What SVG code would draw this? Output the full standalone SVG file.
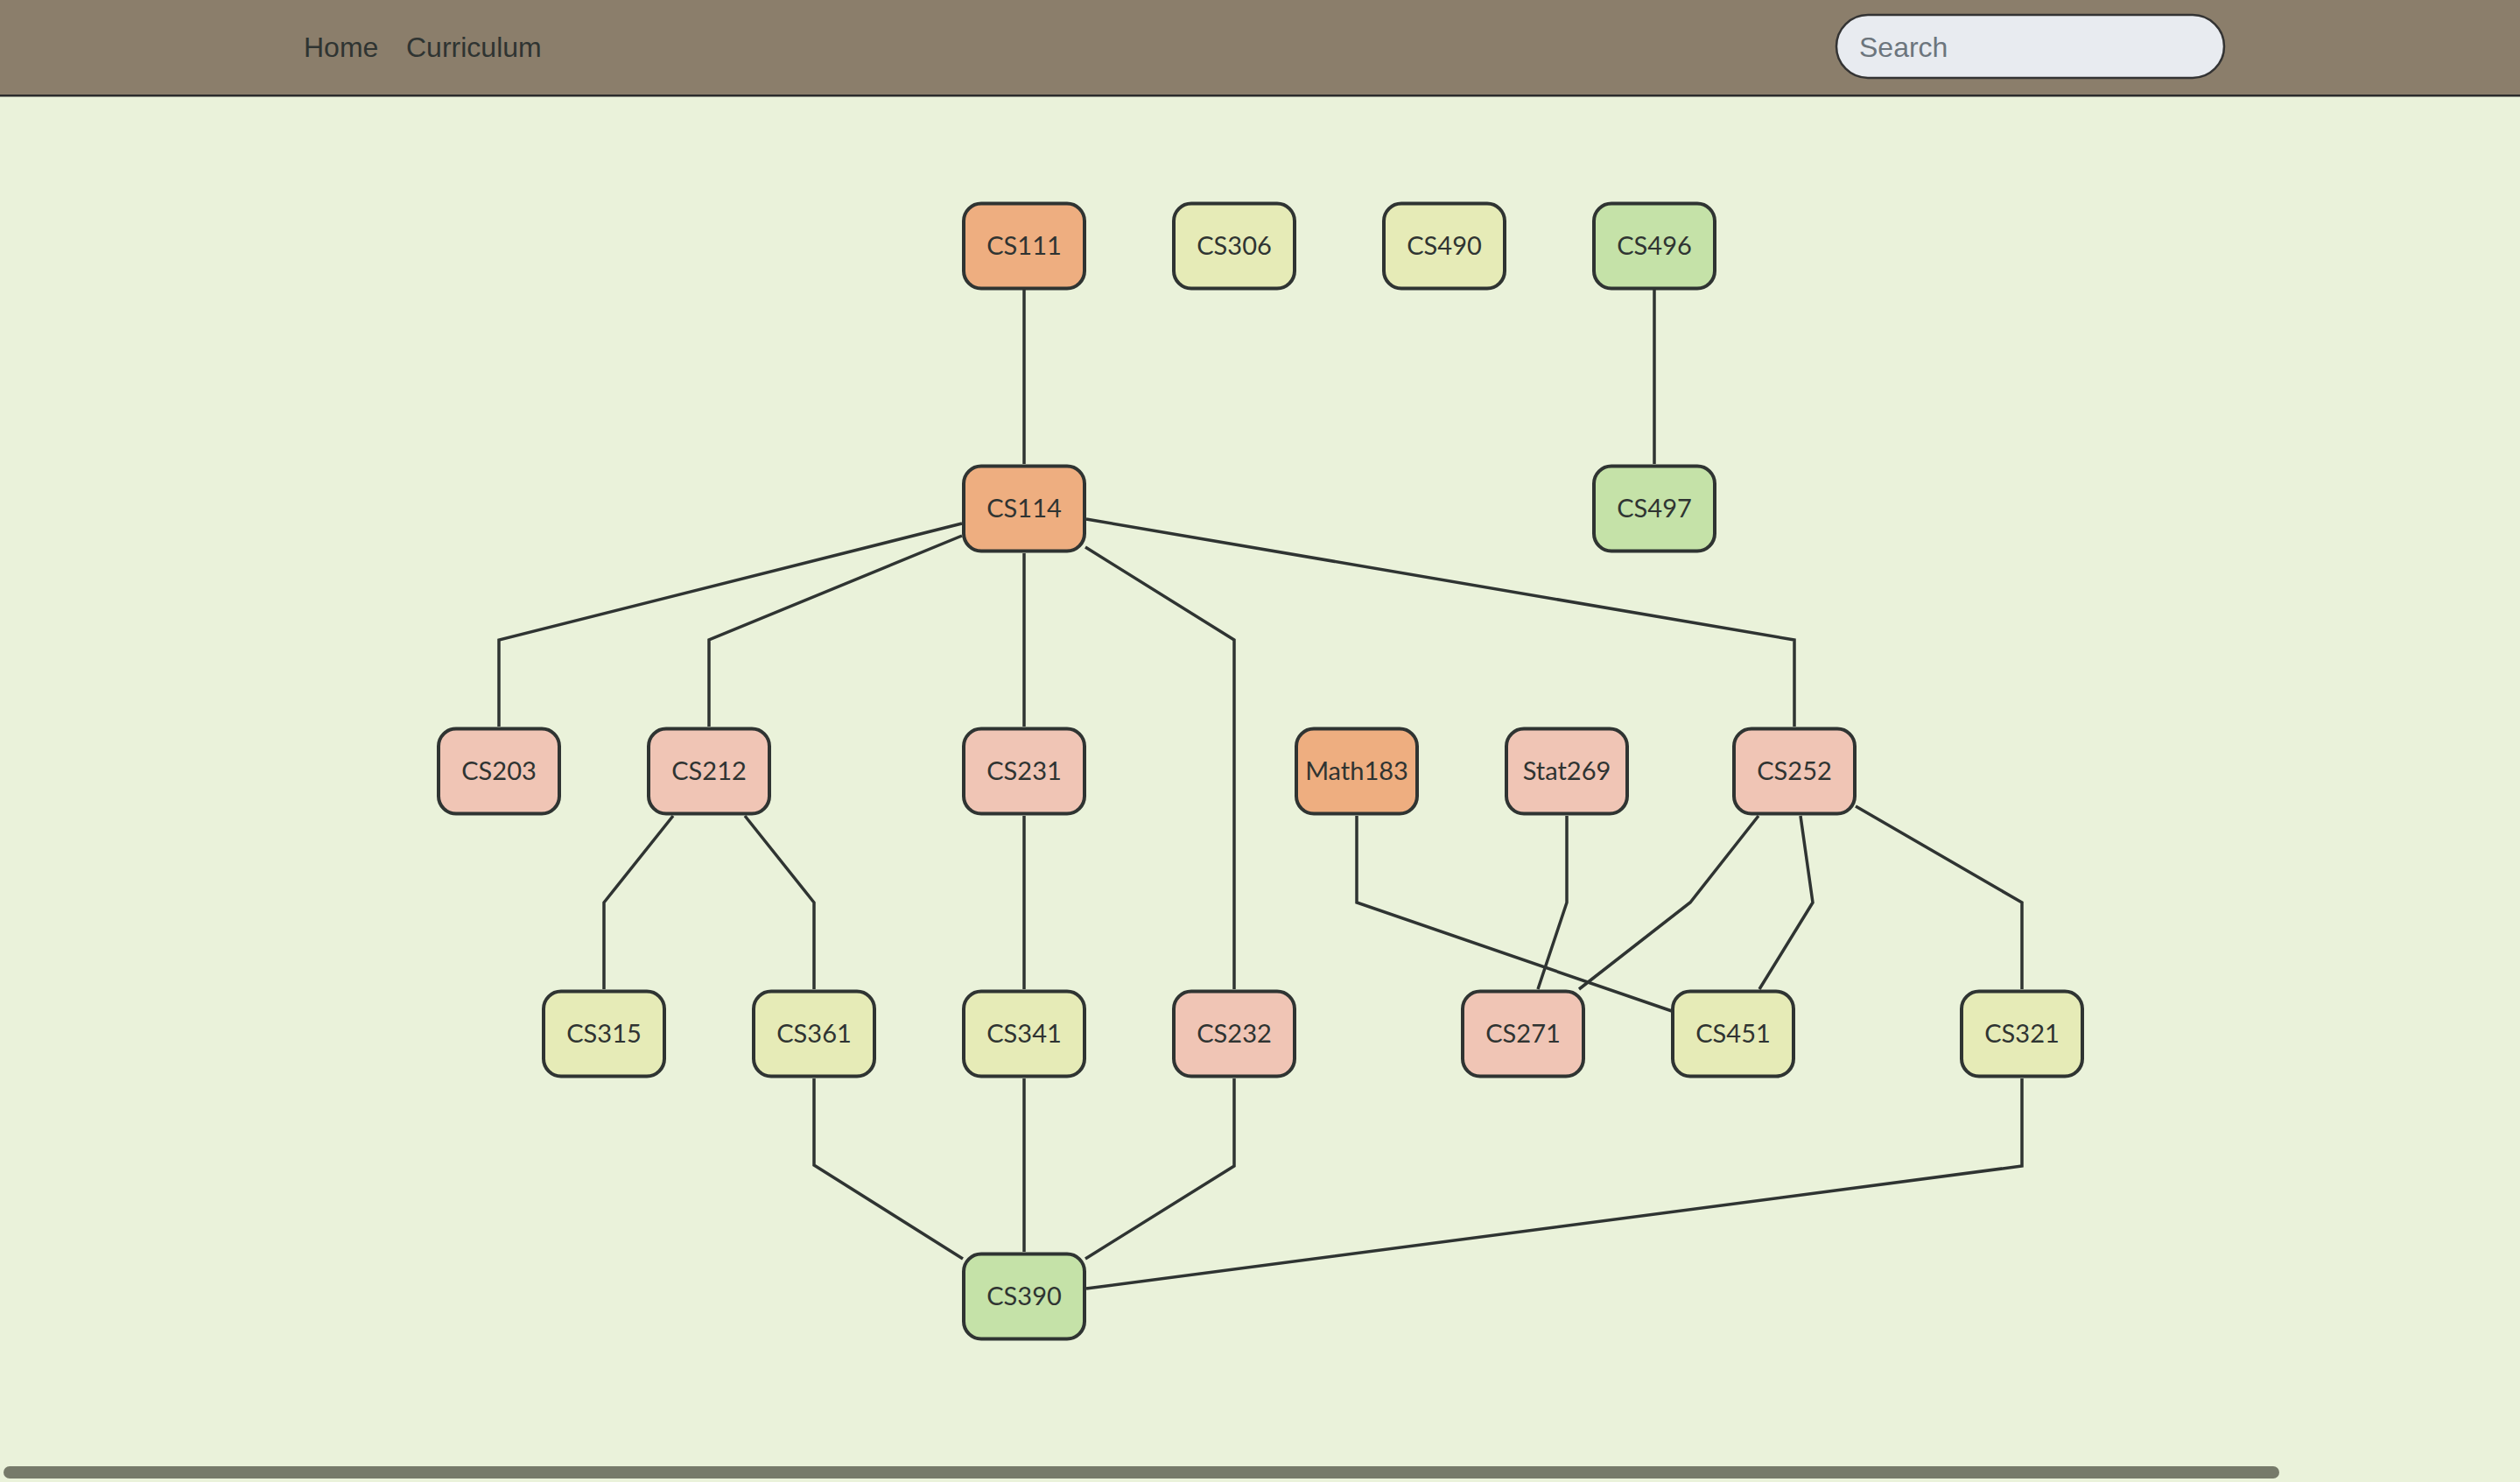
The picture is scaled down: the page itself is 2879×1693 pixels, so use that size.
<svg xmlns="http://www.w3.org/2000/svg" width="2879" height="1693" viewBox="0 0 2879 1693">
<style>
.nav{font-family:"Liberation Sans",Arial,sans-serif;font-size:32px;fill:#2f3432}
.ph{font-family:"Liberation Sans",Arial,sans-serif;font-size:32px;fill:#6c757d}
.node rect{stroke:#2f3432;stroke-width:4}
.node text{font-family:Lato,"Noto Sans",sans-serif;font-size:29px;fill:#2f3432;text-anchor:middle}
.o rect{fill:#eeae80}
.p rect{fill:#f0c5b5}
.y rect{fill:#e6ebb7}
.g rect{fill:#c5e2a8}
#edges path{fill:none;stroke:#2f3432;stroke-width:3.5;stroke-linejoin:miter}
</style>
<rect x="0" y="0" width="2879" height="1693" fill="#eaf2da"/>
<g id="header">
<rect x="0" y="0" width="2879" height="108" fill="#8b7e6b"/>
<rect x="0" y="108" width="2879" height="2.5" fill="#2b2b2b"/>
<text class="nav" x="347" y="65">Home</text>
<text class="nav" x="464" y="65">Curriculum</text>
<rect x="2098" y="17" width="443" height="72" rx="36" ry="36" fill="#e8ebf0" stroke="#333" stroke-width="2.5"/>
<text class="ph" x="2124" y="65">Search</text>
</g>
<g id="edges">
<path d="M1170 331 V530"/>
<path d="M1890 331 V530"/>
<path d="M1099 598 L570 731 V830"/>
<path d="M1099 612 L810 731 V830"/>
<path d="M1170 632 V830"/>
<path d="M1240 625 L1410 731 V1130"/>
<path d="M1241 593 L2050 731 V830"/>
<path d="M769 932 L690 1031 V1130"/>
<path d="M851 932 L930 1031 V1130"/>
<path d="M1170 932 V1130"/>
<path d="M1550 932 V1031 L1910 1155"/>
<path d="M1790 932 V1031 L1757 1130"/>
<path d="M2009 932 L1931 1031 L1804 1130"/>
<path d="M2057 932 L2071 1031 L2010 1130"/>
<path d="M2120 921 L2310 1031 V1130"/>
<path d="M930 1232 V1331 L1100 1438"/>
<path d="M1170 1232 V1430"/>
<path d="M1410 1232 V1332 L1240 1438"/>
<path d="M2310 1232 V1332 L1241 1472"/>
</g>
<g id="CS111" class="node o" transform="translate(1170 281)"><rect x="-69" y="-48.5" width="138" height="97" rx="20"/><text y="10">CS111</text></g>
<g id="CS306" class="node y" transform="translate(1410 281)"><rect x="-69" y="-48.5" width="138" height="97" rx="20"/><text y="10">CS306</text></g>
<g id="CS490" class="node y" transform="translate(1650 281)"><rect x="-69" y="-48.5" width="138" height="97" rx="20"/><text y="10">CS490</text></g>
<g id="CS496" class="node g" transform="translate(1890 281)"><rect x="-69" y="-48.5" width="138" height="97" rx="20"/><text y="10">CS496</text></g>
<g id="CS114" class="node o" transform="translate(1170 581)"><rect x="-69" y="-48.5" width="138" height="97" rx="20"/><text y="10">CS114</text></g>
<g id="CS497" class="node g" transform="translate(1890 581)"><rect x="-69" y="-48.5" width="138" height="97" rx="20"/><text y="10">CS497</text></g>
<g id="CS203" class="node p" transform="translate(570 881)"><rect x="-69" y="-48.5" width="138" height="97" rx="20"/><text y="10">CS203</text></g>
<g id="CS212" class="node p" transform="translate(810 881)"><rect x="-69" y="-48.5" width="138" height="97" rx="20"/><text y="10">CS212</text></g>
<g id="CS231" class="node p" transform="translate(1170 881)"><rect x="-69" y="-48.5" width="138" height="97" rx="20"/><text y="10">CS231</text></g>
<g id="Math183" class="node o" transform="translate(1550 881)"><rect x="-69" y="-48.5" width="138" height="97" rx="20"/><text y="10">Math183</text></g>
<g id="Stat269" class="node p" transform="translate(1790 881)"><rect x="-69" y="-48.5" width="138" height="97" rx="20"/><text y="10">Stat269</text></g>
<g id="CS252" class="node p" transform="translate(2050 881)"><rect x="-69" y="-48.5" width="138" height="97" rx="20"/><text y="10">CS252</text></g>
<g id="CS315" class="node y" transform="translate(690 1181)"><rect x="-69" y="-48.5" width="138" height="97" rx="20"/><text y="10">CS315</text></g>
<g id="CS361" class="node y" transform="translate(930 1181)"><rect x="-69" y="-48.5" width="138" height="97" rx="20"/><text y="10">CS361</text></g>
<g id="CS341" class="node y" transform="translate(1170 1181)"><rect x="-69" y="-48.5" width="138" height="97" rx="20"/><text y="10">CS341</text></g>
<g id="CS232" class="node p" transform="translate(1410 1181)"><rect x="-69" y="-48.5" width="138" height="97" rx="20"/><text y="10">CS232</text></g>
<g id="CS271" class="node p" transform="translate(1740 1181)"><rect x="-69" y="-48.5" width="138" height="97" rx="20"/><text y="10">CS271</text></g>
<g id="CS451" class="node y" transform="translate(1980 1181)"><rect x="-69" y="-48.5" width="138" height="97" rx="20"/><text y="10">CS451</text></g>
<g id="CS321" class="node y" transform="translate(2310 1181)"><rect x="-69" y="-48.5" width="138" height="97" rx="20"/><text y="10">CS321</text></g>
<g id="CS390" class="node g" transform="translate(1170 1481)"><rect x="-69" y="-48.5" width="138" height="97" rx="20"/><text y="10">CS390</text></g>
<rect id="scrollbar" x="4" y="1675" width="2600" height="14" rx="7" ry="7" fill="#767a6a"/>
</svg>
